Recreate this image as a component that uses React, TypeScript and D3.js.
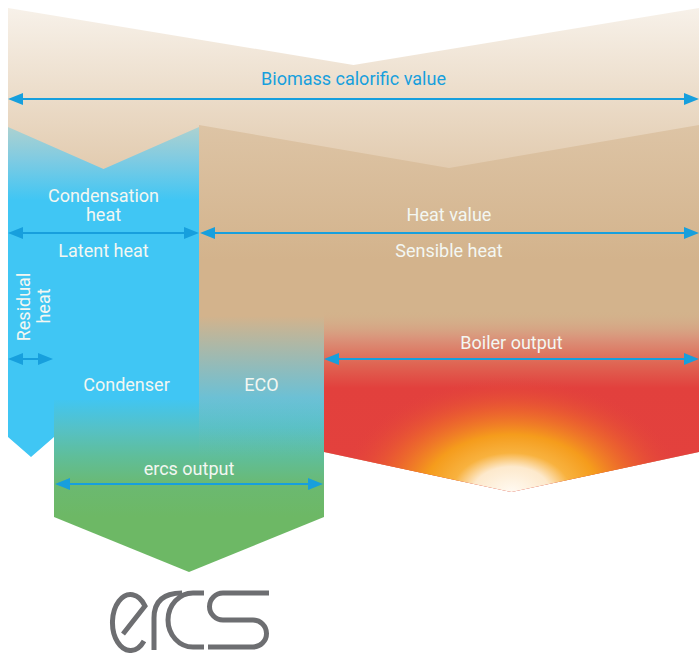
import React from 'react';
import * as d3 from 'd3';

// Energy flow of an ercs condensing system: widths are energy shares (left → right)
const columnKeys = ['residual', 'condenser', 'eco', 'boiler'];
const columnShares = [46, 145, 125, 375];

// vertical stages of the diagram (px)
const stageKeys = ['fuelTop', 'fuelArrow', 'split', 'splitArrow', 'flueFade', 'lowArrow', 'condEnd', 'stripEnd', 'boilerEnd', 'ercsArrow', 'ercsEnd'];
const stageValues = [8, 99, 125, 233, 300, 359, 400, 437, 452, 484, 517];

// depth of the chevron notches (px)
const notchKeys = ['fuel', 'latent', 'sensible', 'strip', 'boiler', 'ercs'];
const notchDepths = [57, 42, 43, 20, 40, 55];

const arrowKeys = ['fuel', 'latent', 'sensible', 'residual', 'boiler', 'ercs'];
const arrowLabels = ['Biomass calorific value', 'Latent heat', 'Sensible heat', '', 'Boiler output', 'ercs output'];

const W = 699;
const H = 653;

const x = d3.scaleLinear().domain([0, d3.sum(columnShares)]).range([8, W]);
const edges = [0, ...d3.cumsum(columnShares)].map(v => x(v));
const colX = (k: string) => columnKeys.indexOf(k);
const L = (i: number) => edges[i];
const Y = (k: string) => stageValues[stageKeys.indexOf(k)];
const N = (k: string) => notchDepths[notchKeys.indexOf(k)];

const line = d3.line<[number, number]>();

// polygon with a V-notch in the top edge
const notchTop = (x0: number, x1: number, y: number, d: number): [number, number][] => [
  [x0, y], [(x0 + x1) / 2, y + d], [x1, y],
];
const chevronBottom = (x0: number, x1: number, y: number, d: number): [number, number][] => [
  [x1, y], [(x0 + x1) / 2, y + d], [x0, y],
];

const BLUE = '#179fdd';

function Arrow({ x0, x1, y }: { x0: number; x1: number; y: number }) {
  const hl = 15, hw = 6;
  return (
    <g>
      <line x1={x0 + hl - 1} x2={x1 - hl + 1} y1={y} y2={y} stroke={BLUE} strokeWidth={2} />
      <path d={line([[x0, y], [x0 + hl, y - hw], [x0 + hl, y + hw]]) + 'Z'} fill={BLUE} />
      <path d={line([[x1, y], [x1 - hl, y - hw], [x1 - hl, y + hw]]) + 'Z'} fill={BLUE} />
    </g>
  );
}

// ercs word mark, drawn as thin strokes (logo geometry relative to its centre)
function Logo({ cx, cy }: { cx: number; cy: number }) {
  return (
    <g transform={`translate(${cx - 190},${cy - 620})`} fill="none" stroke="#6d6e71" strokeWidth={5}>
      <path d="M124 634 L146 606 A18 28 0 1 0 145 641" />
      <path d="M155 650 L155 618 Q155 593 183 593" />
      <path d="M205 593 H194 A25 27 0 0 0 194 647 H205" />
      <path d="M270 593 H224 A13.5 13.5 0 0 0 224 620 H254 A13.5 13.5 0 0 1 254 647 H209" />
    </g>
  );
}

export default function App() {
  const xR = L(colX('residual'));
  const xC = L(colX('condenser'));
  const xE = L(colX('eco'));
  const xB = L(colX('boiler'));
  const xEnd = L(4);

  const fuel = [...notchTop(xR, xEnd, Y('fuelTop'), N('fuel')), [xEnd, 175], [xR, 175]] as [number, number][];
  const sensible = [
    ...notchTop(xE, xEnd, Y('split'), N('sensible')),
    ...chevronBottom(xB, xEnd, Y('boilerEnd'), N('boiler')),
    [xB, Y('flueFade')], [xE, Y('flueFade')],
  ] as [number, number][];
  const boiler = [
    [xB, Y('flueFade')], [xEnd, Y('flueFade')],
    ...chevronBottom(xB, xEnd, Y('boilerEnd'), N('boiler')),
  ] as [number, number][];
  const latent = [
    ...notchTop(xR, xE, Y('split') + 2, N('latent')),
    [xE, Y('condEnd')], [xC, Y('condEnd')], [xC, Y('stripEnd')],
    ...chevronBottom(xR, xC, Y('stripEnd'), N('strip')),
  ] as [number, number][];
  const ercs = [
    [xC, Y('flueFade')], [xB, Y('flueFade')],
    ...chevronBottom(xC, xB, Y('ercsEnd'), N('ercs')),
  ] as [number, number][];

  const arrows: Record<string, [number, number, number]> = {
    fuel: [xR, xEnd, Y('fuelArrow')],
    latent: [xR, xE, Y('splitArrow')],
    sensible: [xE + 1, xEnd, Y('splitArrow')],
    residual: [xR, xC - 1, Y('lowArrow')],
    boiler: [xB, xEnd, Y('lowArrow')],
    ercs: [xC + 1, xB - 1, Y('ercsArrow')],
  };

  const font = 'Roboto, "Liberation Sans", sans-serif';
  const white = '#f3f7f2';
  const fs = 18;

  return (
    <svg width={W} height={H} style={{ position: 'absolute', left: 0, top: 0, display: 'block' }}>
      <defs>
        <linearGradient id="gFuel" gradientUnits="userSpaceOnUse" x1={0} y1={8} x2={0} y2={170}>
          <stop offset="0" stopColor="#f7f1e9" />
          <stop offset="1" stopColor="#e2cbaf" />
        </linearGradient>
        <linearGradient id="gSens" gradientUnits="userSpaceOnUse" x1={0} y1={125} x2={0} y2={260}>
          <stop offset="0" stopColor="#ddc4a5" />
          <stop offset="1" stopColor="#d3b38c" />
        </linearGradient>
        <linearGradient id="gBoiler" gradientUnits="userSpaceOnUse" x1={0} y1={300} x2={0} y2={460}>
          <stop offset="0.06" stopColor="#d3b38c" stopOpacity="0" />
          <stop offset="0.24" stopColor="#da937a" />
          <stop offset="0.4" stopColor="#df6553" />
          <stop offset="0.55" stopColor="#e2403d" />
          <stop offset="1" stopColor="#e3413d" />
        </linearGradient>
        <radialGradient id="gFire">
          <stop offset="0" stopColor="#fffaf2" />
          <stop offset="0.22" stopColor="#fde9cc" />
          <stop offset="0.34" stopColor="#f8b23f" />
          <stop offset="0.5" stopColor="#f59c1c" />
          <stop offset="0.72" stopColor="#ee6b2a" stopOpacity="0.7" />
          <stop offset="1" stopColor="#e3403d" stopOpacity="0" />
        </radialGradient>
        <clipPath id="cBoiler">
          <path d={line(boiler) + 'Z'} />
        </clipPath>
        <linearGradient id="gLatent" gradientUnits="userSpaceOnUse" x1={0} y1={127} x2={0} y2={200}>
          <stop offset="0" stopColor="#acd1d0" />
          <stop offset="0.45" stopColor="#7fcbe2" />
          <stop offset="1" stopColor="#40c6f4" />
        </linearGradient>
        <linearGradient id="gErcs" gradientUnits="userSpaceOnUse" x1={0} y1={300} x2={0} y2={517}>
          <stop offset="0.45" stopColor="#40c6f4" />
          <stop offset="0.6" stopColor="#56c1c4" />
          <stop offset="0.72" stopColor="#5fbe9a" />
          <stop offset="0.86" stopColor="#6bb970" />
          <stop offset="1" stopColor="#6db865" />
        </linearGradient>
        <linearGradient id="gEco" gradientUnits="userSpaceOnUse" x1={0} y1={300} x2={0} y2={460}>
          <stop offset="0.1" stopColor="#d3b38c" />
          <stop offset="0.42" stopColor="#d3b38c" stopOpacity="0.55" />
          <stop offset="0.8" stopColor="#d3b38c" stopOpacity="0.05" />
          <stop offset="1" stopColor="#d3b38c" stopOpacity="0" />
        </linearGradient>
      </defs>

      <path d={line(fuel) + 'Z'} fill="url(#gFuel)" />
      <path d={line(sensible) + 'Z'} fill="url(#gSens)" />
      <path d={line(boiler) + 'Z'} fill="url(#gBoiler)" />
      <g clipPath="url(#cBoiler)">
        <ellipse cx={(xB + xEnd) / 2} cy={Y('boilerEnd') + N('boiler')} rx={175} ry={115} fill="url(#gFire)" />
      </g>
      <path d={line(ercs) + 'Z'} fill="url(#gErcs)" />
      <rect x={xE} y={Y('flueFade') - 1} width={xB - xE} height={160} fill="url(#gEco)" />
      <path d={line(latent) + 'Z'} fill="url(#gLatent)" />

      {arrowKeys.map(k => {
        const [a, b, y] = arrows[k];
        return <Arrow key={k} x0={a} x1={b} y={y} />;
      })}

      <g fontFamily={font} fontSize={fs} textAnchor="middle" fill={white}>
        <text x={(xR + xEnd) / 2} y={85} fill={BLUE}>{arrowLabels[0]}</text>
        <text x={(xR + xE) / 2} y={202}>Condensation</text>
        <text x={(xR + xE) / 2} y={221}>heat</text>
        <text x={(xR + xE) / 2} y={257}>{arrowLabels[1]}</text>
        <text x={(xE + xEnd) / 2} y={221}>Heat value</text>
        <text x={(xE + xEnd) / 2} y={257}>{arrowLabels[2]}</text>
        <text x={(xB + xEnd) / 2} y={349}>{arrowLabels[4]}</text>
        <text x={(xC + xE) / 2} y={391}>Condenser</text>
        <text x={(xE + xB) / 2} y={391}>ECO</text>
        <text x={(xC + xB) / 2} y={475}>{arrowLabels[5]}</text>
        <text transform={`translate(30,307) rotate(-90)`}>Residual</text>
        <text transform={`translate(50,306) rotate(-90)`}>heat</text>
      </g>

      <Logo cx={(xC + xB) / 2} cy={620} />
    </svg>
  );
}
